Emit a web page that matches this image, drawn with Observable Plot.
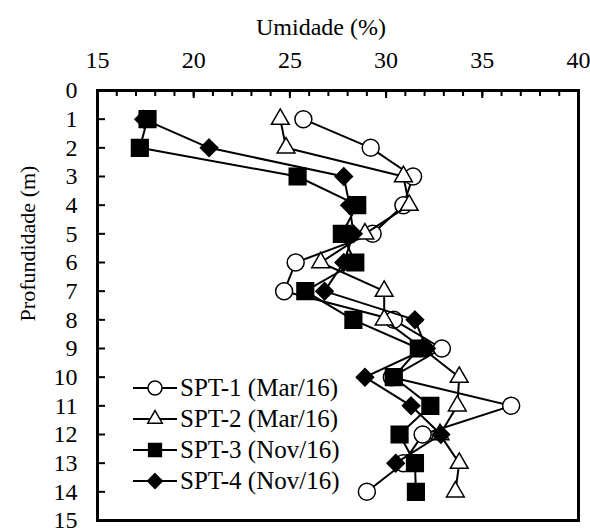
<!DOCTYPE html>
<html><head><meta charset="utf-8">
<script src="https://cdn.jsdelivr.net/npm/d3@7"></script>
<script src="https://cdn.jsdelivr.net/npm/@observablehq/plot@0.6"></script>
<style>
html,body{margin:0;padding:0;background:#fff;}
#wrap{position:relative;width:590px;height:528px;overflow:hidden;}
#legend{position:absolute;left:0;top:0;pointer-events:none;}
</style></head><body><div id="wrap"></div>
<script>
// ---- data ----
const depths = [1,2,3,4,5,6,7,8,9,10,11,12,13,14];
const spt1 = [25.7,29.2,31.4,30.9,29.3,25.3,24.7,30.4,32.9,30.3,36.5,31.9,30.9,29.0];
const spt2 = [24.5,24.8,30.9,31.2,28.9,26.6,29.9,29.9,31.9,33.8,33.7,32.8,33.8,33.6];
const spt3 = [17.6,17.2,25.4,28.5,27.7,28.4,25.8,28.3,31.7,30.4,32.3,30.7,31.5,31.55];
const spt4 = [17.4,20.8,27.8,28.1,28.3,27.8,26.8,31.5,32.1,28.9,31.3,32.85,30.5,null];
const seriesNames = ["SPT-1 (Mar/16)","SPT-2 (Mar/16)","SPT-3 (Nov/16)","SPT-4 (Nov/16)"];
const xTicks = [15,20,25,30,35,40];
const yTicks = [0,1,2,3,4,5,6,7,8,9,10,11,12,13,14,15];
const xTitle = "Umidade (%)";
const yTitle = "Profundidade (m)";

// ---- styling ----
const seriesValues = [spt1, spt2, spt3, spt4];
const symbols = ["circle","triangle","square","diamond2"];
const fills = ["white","white","black","black"];
const radii = [8.5, 6.6, 9.4, 7.8];
const legendRadii = [7, 5.4, 7.2, 6.6];

const W = 590, H = 528, mL = 97, mR = 12, mT = 90, mB = 8;
const plotW = W - mL - mR, plotH = H - mT - mB;
const FONT = "'Liberation Serif', 'Times New Roman', serif";

const rows = [];
seriesValues.forEach((vals, i) => {
  vals.forEach((v, j) => { if (v != null) rows.push({series: seriesNames[i], i, depth: depths[j], value: v}); });
});

const marks = [];
// inward minor/major ticks on top and left
marks.push(Plot.ruleX(d3.range(xTicks[0], xTicks[xTicks.length-1] + 1), {
  stroke: "black", strokeWidth: 2, insetBottom: plotH - 6
}));
marks.push(Plot.ruleX(xTicks, {stroke: "black", strokeWidth: 2, insetBottom: plotH - 8}));
marks.push(Plot.ruleY(yTicks, {stroke: "black", strokeWidth: 2, insetRight: plotW - 8}));

seriesNames.forEach((name, i) => {
  const d = rows.filter(r => r.i === i);
  marks.push(Plot.line(d, {x: "value", y: "depth", stroke: "black", strokeWidth: 2}));
  marks.push(Plot.dot(d, {x: "value", y: "depth", symbol: () => symbols[i], r: radii[i],
    fill: fills[i], stroke: "black", strokeWidth: 1.5}));
});

marks.push(Plot.frame({stroke: "black", strokeWidth: 3}));
marks.push(Plot.axisX({anchor: "top", ticks: xTicks, tickSize: 0, tickPadding: 23, fontSize: 24, label: null}));
marks.push(Plot.axisY({anchor: "left", ticks: yTicks, tickSize: 0, tickPadding: 20, fontSize: 24, label: null}));
marks.push(Plot.text([xTitle], {frameAnchor: "top", dx: -17, dy: -63, fontSize: 24, lineAnchor: "middle", textAnchor: "middle"}));
marks.push(Plot.text([yTitle], {frameAnchor: "left", dx: -70, dy: -62, rotate: -90, fontSize: 22, lineAnchor: "middle", textAnchor: "middle"}));

const chart = Plot.plot({
  width: W, height: H,
  marginLeft: mL, marginRight: mR, marginTop: mT, marginBottom: mB,
  style: {fontFamily: FONT, color: "black", background: "white", overflow: "visible"},
  x: {domain: [xTicks[0], xTicks[xTicks.length-1]]},
  y: {domain: [yTicks[0], yTicks[yTicks.length-1]], reverse: true},
  symbol: {type: "identity"},
  marks
});
document.getElementById("wrap").appendChild(chart);

// ---- legend (HTML overlay) ----
const rowY = [388, 419, 450, 481];
const leg = d3.select("#wrap").append("svg").attr("id","legend").attr("width", W).attr("height", H);
const symMap = {circle: d3.symbolCircle, triangle: d3.symbolTriangle, square: d3.symbolSquare, diamond2: d3.symbolDiamond2};
seriesNames.forEach((name, i) => {
  const g = leg.append("g").attr("transform", `translate(0,${rowY[i]})`);
  g.append("line").attr("x1", 133).attr("x2", 177).attr("stroke", "black").attr("stroke-width", 2);
  g.append("path").attr("transform", "translate(155,0)")
    .attr("d", d3.symbol(symMap[symbols[i]], Math.PI * legendRadii[i] * legendRadii[i])())
    .attr("fill", fills[i]).attr("stroke", "black").attr("stroke-width", 1.5);
  g.append("text").attr("x", 180).attr("y", 8.3).attr("font-family", FONT).attr("font-size", 25)
    .attr("fill", "black").text(name);
});
</script></body></html>
